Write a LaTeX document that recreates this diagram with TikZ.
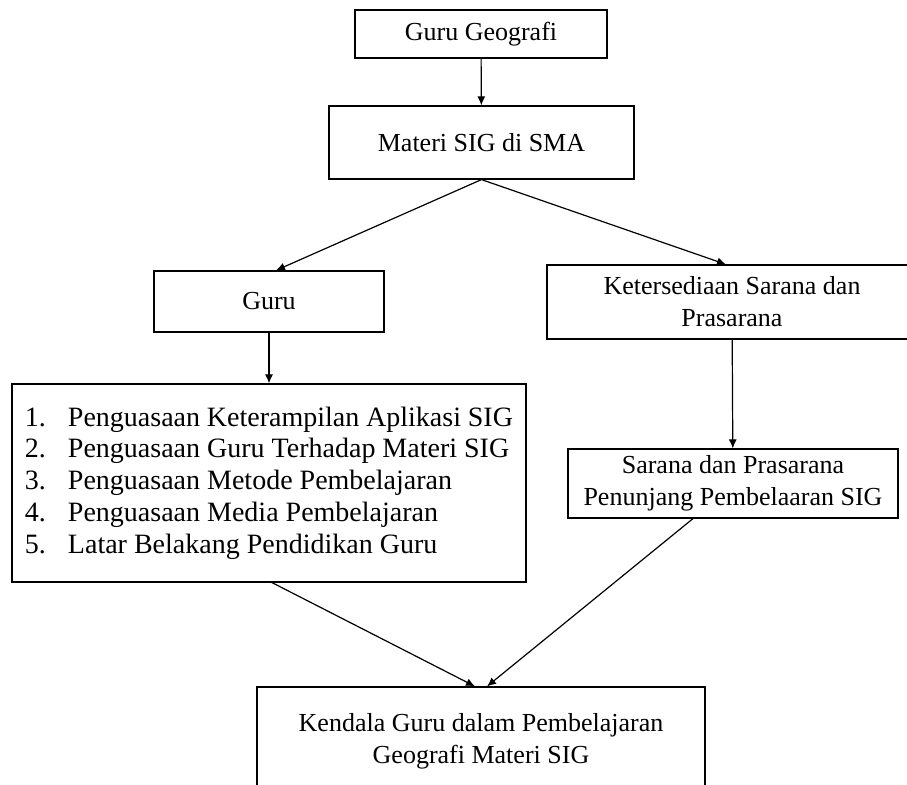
\documentclass[tikz,border=0pt]{standalone}
\usepackage{fontspec}
\setmainfont{Liberation Serif}
\usetikzlibrary{arrows.meta}
\begin{document}
\begin{tikzpicture}[x=.5pt,y=-.5pt]

      \useasboundingbox (0,0) rectangle (907,785);
      \clip (0,0) rectangle (907,785);

      \begin{scope}[every node/.style={draw,line width=.6pt,align=center,inner sep=0pt,
          font=\fontsize{13pt}{15.9pt}\selectfont}]
        \node (1) at (481,34)    [minimum width=126pt,minimum height=24pt]   {Guru Geografi};
        \node (2) at (481.5,142.5) [minimum width=152.5pt,minimum height=36.5pt] {Materi SIG di SMA};
        \node (3) at (269,301.5) [minimum width=115pt,minimum height=30.5pt] {Guru};
        \node (4) at (732,302)   [minimum width=185pt,minimum height=37pt]   {Ketersediaan Sarana dan\\Prasarana};
        \node (5) at (269,483)   [minimum width=257pt,minimum height=99pt,inner xsep=6.5pt,
          text width=244pt,align=flush left,font=\fontsize{14pt}{15.9pt}\selectfont]
          {\makebox[21.5pt][l]{1.}Penguasaan Keterampilan Aplikasi SIG\\
           \makebox[21.5pt][l]{2.}Penguasaan Guru Terhadap Materi SIG\\
           \makebox[21.5pt][l]{3.}Penguasaan Metode Pembelajaran\\
           \makebox[21.5pt][l]{4.}Penguasaan Media Pembelajaran\\
           \makebox[21.5pt][l]{5.}Latar Belakang Pendidikan Guru};
        \node (6) at (733,483.5) [minimum width=165pt,minimum height=34.5pt] {Sarana dan Prasarana\\Penunjang Pembelaaran SIG};
        \node (7) at (481,741)   [minimum width=224pt,minimum height=54pt]   {Kendala Guru dalam Pembelajaran\\Geografi Materi SIG};
      \end{scope}

      \begin{scope}[every edge/.style={draw,line width=.6pt,-{Latex[length=4.5pt,width=4pt]}}]
        \path (1) edge (2);
        \path (2.south) edge ([xshift=3.5pt]3.north);
        \path (2.south) edge ([xshift=-3pt]4.north);
        \path (3) edge (5);
        \path (4) edge (6);
        \path ([xshift=1.5pt]5.south) edge ([xshift=-3pt]7.north);
        \path ([xshift=-20pt]6.south) edge ([xshift=3pt]7.north);
      \end{scope}

    \end{tikzpicture}
\end{document}
